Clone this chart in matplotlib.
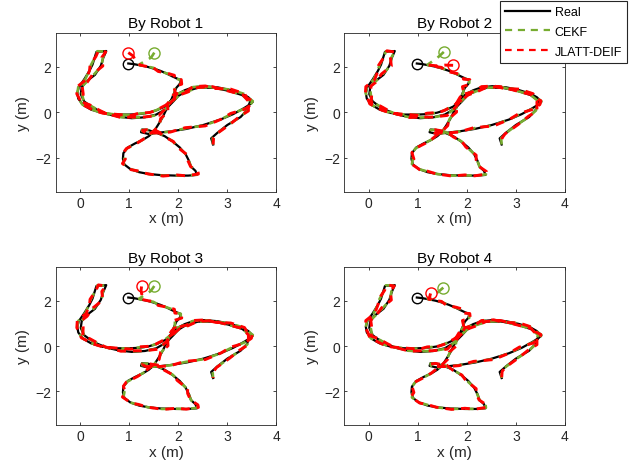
import numpy as np
import matplotlib.pyplot as plt

plt.rcParams['font.family'] = ['Liberation Sans', 'DejaVu Sans']

# ground-truth trajectory (m)
real_x = [0.98, 1.10, 1.22, 1.36, 1.49, 1.63, 1.76, 1.87, 1.96, 2.05,
          2.03, 1.96, 1.92, 1.87, 1.82, 1.74, 1.66, 1.58, 1.50, 1.40,
          1.27, 1.12, 0.97, 0.88, 0.87, 0.90, 1.02, 1.20, 1.40, 1.65,
          1.95, 2.20, 2.38, 2.35, 2.26, 2.22, 2.15, 2.03, 1.88, 1.72,
          1.55, 1.38, 1.26, 1.24, 1.38, 1.60, 1.85, 2.17, 2.51, 2.86,
          3.12, 3.33, 3.45, 3.52, 3.43, 3.30, 3.06, 2.80, 2.52, 2.30,
          2.13, 1.98, 1.85, 1.73, 1.57, 1.39, 1.20, 1.00, 0.70, 0.45,
          0.22, 0.06, -0.04, -0.06, -0.03, 0.08, 0.18, 0.25, 0.30, 0.33,
          0.53, 0.47, 0.42, 0.30, 0.12, 0.03, 0.01, 0.08, 0.19, 0.35,
          0.55, 0.80, 1.05, 1.32, 1.55, 1.75, 1.90, 2.00, 2.15, 2.40,
          2.72, 3.02, 3.30, 3.47, 3.40, 3.27, 3.00, 2.80, 2.67, 2.71]
real_y = [2.15, 2.12, 2.07, 2.01, 1.93, 1.83, 1.71, 1.59, 1.50, 1.42,
          1.25, 1.08, 0.88, 0.62, 0.36, 0.05, -0.30, -0.58, -0.85, -1.05,
          -1.22, -1.37, -1.55, -1.80, -2.05, -2.30, -2.50, -2.64, -2.72, -2.77,
          -2.79, -2.79, -2.76, -2.58, -2.40, -2.15, -1.85, -1.55, -1.28, -1.05,
          -0.90, -0.78, -0.76, -0.88, -0.95, -0.90, -0.84, -0.73, -0.56, -0.32,
          -0.08, 0.17, 0.33, 0.46, 0.66, 0.82, 0.98, 1.10, 1.15, 1.10,
          0.97, 0.80, 0.52, 0.26, 0.10, -0.02, -0.08, -0.10, -0.10, -0.03,
          0.12, 0.32, 0.60, 0.85, 1.10, 1.45, 1.80, 2.10, 2.45, 2.66,
          2.70, 2.40, 2.05, 1.65, 1.35, 1.10, 0.80, 0.48, 0.30, 0.10,
          -0.08, -0.20, -0.26, -0.22, -0.10, 0.15, 0.48, 0.72, 0.92, 1.08,
          1.08, 0.95, 0.76, 0.50, 0.09, -0.21, -0.56, -0.90, -1.15, -1.42]

# estimation error along the path (cm)
cekf_dx = [0, 1, -1, 2, 0, -2, 1, 3, -1, 0,
           2, -3, 1, 0, -2, 3, -1, 2, 0, -3,
           1, 2, -1, 0, 3, -2, 1, 0, -1, 2,
           0, -2, 1, 3, 0, -1, 2, -3, 1, 0,
           2, -1, 0, 3, -2, 1, 0, -1, 2, 0,
           -3, 1, 2, 0, -1, 3, 0, -2, 1, 0,
           2, -1, 3, 0, -2, 1, 0, 2, -1, 0,
           3, -2, 1, 0, -1, 2, 0, -3, 1, 2,
           0, -1, 2, -2, 1, 0, 3, -1, 0, 2,
           -2, 1, 0, -1, 3, 0, -2, 1, 2, 0,
           -1, 3, 0, -2, 1, 0, 2, -1, 3, 0]
cekf_dy = [0, -2, 1, 0, 3, -1, 0, 2, -2, 1,
           0, 3, -1, 2, 0, -2, 1, 0, 3, -1,
           2, 0, -3, 1, 0, 2, -1, 3, 0, -2,
           1, 0, 2, -1, 0, 3, -2, 1, 0, -1,
           3, 0, -2, 1, 2, 0, -1, 3, -2, 0,
           1, -2, 0, 3, -1, 0, 2, -3, 0, 1,
           -2, 0, 1, 3, -1, 0, 2, -2, 1, 0,
           -1, 3, 0, -2, 1, 0, 2, -1, 0, 3,
           -2, 1, 0, 2, -1, 3, 0, -2, 1, 0,
           2, -1, 3, 0, -2, 1, 0, 2, -1, 0,
           3, -2, 1, 0, -1, 2, 0, -3, 1, 0]
deif_dx = [0, 3, -2, 4, -1, -4, 2, 5, -3, 1,
           4, -5, 2, -1, -4, 5, -2, 3, 1, -5,
           2, 4, -3, 0, 5, -4, 2, -1, -3, 4,
           1, -4, 3, 5, -1, -3, 4, -5, 2, 0,
           4, -3, 1, 5, -4, 2, -1, -3, 4, 1,
           -5, 2, 4, -1, -3, 5, 1, -4, 3, 0,
           4, -2, 5, 1, -4, 3, -1, 4, -3, 1,
           5, -4, 2, -1, -3, 4, 1, -5, 2, 4,
           -1, -3, 4, -4, 2, 1, 5, -3, 0, 4,
           -4, 3, 1, -3, 5, 0, -4, 2, 4, -1,
           -3, 5, 1, -4, 3, -1, 4, -2, 5, 0]
deif_dy = [0, -4, 2, -1, 5, -3, 1, 4, -4, 2,
           -1, 5, -3, 4, 1, -4, 3, -1, 5, -2,
           4, 1, -5, 2, -1, 4, -3, 5, 1, -4,
           3, -1, 4, -3, 1, 5, -4, 2, -1, -3,
           5, 1, -4, 3, 4, -1, -3, 5, -4, 1,
           3, -4, 1, 5, -3, 0, 4, -5, 1, 3,
           -4, 1, 3, 5, -3, 1, 4, -4, 2, -1,
           -3, 5, 1, -4, 3, -1, 4, -3, 1, 5,
           -4, 2, -1, 4, -3, 5, 1, -4, 3, -1,
           4, -3, 5, 1, -4, 3, -1, 4, -3, 1,
           5, -4, 2, -1, -3, 4, 1, -5, 2, 0]

# initial estimates of each filter, one row per robot
cekf_start_x = [[1.51, 1.45, 1.32, 1.20], [1.53, 1.40, 1.28, 1.20],
                [1.51, 1.44, 1.30, 1.20], [1.52, 1.42, 1.30, 1.20]]
cekf_start_y = [[2.63, 2.42, 2.25, 2.10], [2.66, 2.40, 2.22, 2.10],
                [2.66, 2.44, 2.24, 2.10], [2.59, 2.40, 2.24, 2.10]]
deif_start_x = [[0.98, 1.08, 1.12, 1.22], [1.72, 1.55, 1.38, 1.22],
                [1.25, 1.24, 1.26, 1.22], [1.26, 1.25, 1.24, 1.22]]
deif_start_y = [[2.63, 2.48, 2.30, 2.08], [2.07, 2.08, 2.05, 2.08],
                [2.64, 2.45, 2.25, 2.08], [2.33, 2.25, 2.15, 2.08]]

titles = ['By Robot 1', 'By Robot 2', 'By Robot 3', 'By Robot 4']
positions = [[0.0879, 0.596, 0.348, 0.333], [0.543, 0.596, 0.348, 0.333],
             [0.0879, 0.107, 0.348, 0.331], [0.543, 0.107, 0.348, 0.331]]

green = '#77AC30'
dk = '#262626'

rx = np.array(real_x)
ry = np.array(real_y)
cx = rx + np.array(cekf_dx) / 100
cy = ry + np.array(cekf_dy) / 100
dx = rx + np.array(deif_dx) / 100
dy = ry + np.array(deif_dy) / 100

fig = plt.figure(figsize=(6.34, 4.77), dpi=100)
for k in range(4):
    ax = fig.add_axes(positions[k])
    ex = np.concatenate([cekf_start_x[k], cx[2:]])
    ey = np.concatenate([cekf_start_y[k], cy[2:]])
    fx = np.concatenate([deif_start_x[k], dx[3:]])
    fy = np.concatenate([deif_start_y[k], dy[3:]])

    l1, = ax.plot(rx, ry, color='k', lw=1.6, label='Real')
    l2, = ax.plot(ex, ey, color=green, lw=1.9, ls='--', dashes=(3.2, 2.6), label='CEKF')
    l3, = ax.plot(fx, fy, color='r', lw=2.1, ls='--', dashes=(3.0, 2.4), label='JLATT-DEIF')
    ax.plot(rx[0], ry[0], 'o', mfc='none', mec='k', ms=7.5, mew=1)
    ax.plot(ex[0], ey[0], 'o', mfc='none', mec=green, ms=8, mew=1)
    ax.plot(fx[0], fy[0], 'o', mfc='none', mec='r', ms=8, mew=1)

    ax.set_xlim(-0.5, 4)
    ax.set_ylim(-3.5, 3.5)
    ax.set_xticks([0, 1, 2, 3, 4])
    ax.set_yticks([-2, 0, 2])
    ax.tick_params(direction='in', top=True, right=True, length=2.5, width=0.6,
                   labelsize=10, colors=dk, pad=3)
    for s in ax.spines.values():
        s.set_color(dk)
        s.set_linewidth(0.6)
    ax.set_title(titles[k], fontsize=11, color='k', pad=4)
    ax.set_xlabel('x (m)', fontsize=11, color=dk, labelpad=1)
    ax.set_ylabel('y (m)', fontsize=11, color=dk, labelpad=4)

leg = fig.legend([l1, l2, l3], ['Real', 'CEKF', 'JLATT-DEIF'],
                 loc='upper right', bbox_to_anchor=(627 / 634, 1 - 2 / 477),
                 bbox_transform=fig.transFigure, fontsize=9, frameon=True,
                 fancybox=False, handlelength=3.6, handletextpad=0.35,
                 borderpad=0.4, labelspacing=0.62, borderaxespad=0)
for h in leg.legend_handles[1:]:
    h.set_linewidth(1.6)
leg.get_frame().set_edgecolor(dk)
leg.get_frame().set_linewidth(0.8)
leg.get_frame().set_alpha(1)

fig.savefig('out.png', dpi=100)
